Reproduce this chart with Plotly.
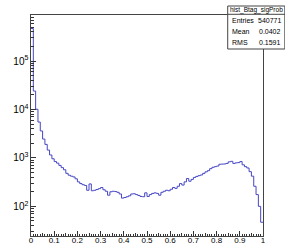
import plotly.graph_objects as go

# ---- data ----
bin_low_edges = [round(i * 0.01, 2) for i in range(100)]
counts = [470000, 24000, 10100, 5500, 3600, 2450, 1900, 1450, 1150, 960,
          840, 780, 700, 630, 570, 480, 440, 420, 405, 370,
          320, 295, 280, 270, 215, 290, 210, 215, 222, 232,
          245, 220, 205, 170, 200, 205, 202, 195, 180, 148,
          152, 158, 165, 180, 182, 175, 168, 160, 158, 190,
          160, 175, 185, 190, 185, 170, 195, 205, 215, 210,
          225, 245, 235, 260, 295, 275, 320, 375, 330, 360,
          395, 415, 430, 445, 480, 515, 545, 600, 640, 660,
          680, 740, 745, 750, 770, 830, 850, 770, 790, 800,
          840, 720, 660, 620, 520, 420, 260, 175, 100, 47]
x_tick_vals = [0, 0.1, 0.2, 0.3, 0.4, 0.5, 0.6, 0.7, 0.8, 0.9, 1]
x_tick_text = ["0", "0.1", "0.2", "0.3", "0.4", "0.5", "0.6", "0.7", "0.8", "0.9", "1"]
stats_title = "hist_Btag_sigProb"
stats_rows = [("Entries", "540771"), ("Mean", "0.0402"), ("RMS", "0.1591")]

# body margin is removed by post_script, so page pixels == figure pixels
W, H = 285, 246
FL, FR, FT, FB = 31.3, 262.7, 15, 236   # frame in page pixels
L, T = FL, FT
R = W - FR
B = H - FB
PW, PH = W - L - R, H - T - B

def px(x):
    return (x - L) / PW

def py(y):
    return 1 - (y - T) / PH

xs = bin_low_edges + [1.0]
ys = counts + [counts[-1]]

fig = go.Figure()
fig.add_trace(go.Scatter(x=xs, y=ys, mode="lines", line=dict(shape="hv", color="#4646c4", width=1),
                         hoverinfo="skip", showlegend=False))

axis_font = dict(family="Liberation Sans, Arial, sans-serif", size=8, color="#000")
fig.update_layout(
    width=W, height=H,
    margin=dict(l=L, r=R, t=T, b=B, pad=0, autoexpand=False),
    paper_bgcolor="white", plot_bgcolor="white",
    showlegend=False,
    xaxis=dict(range=[0, 1], tickmode="array", tickvals=x_tick_vals, ticktext=x_tick_text,
               ticks="inside", ticklen=5, tickcolor="#333", tickwidth=1, automargin=False,
               ticklabelstandoff=-4,
               minor=dict(dtick=0.01, ticks="inside", ticklen=2.5, tickcolor="#333", tickwidth=1, showgrid=False),
               showgrid=False, zeroline=False, showline=True, linecolor="#444", linewidth=1,
               mirror=True, tickfont=axis_font, fixedrange=True),
    xaxis2=dict(range=[0, 1], overlaying="x", anchor="y", side="bottom", dtick=0.05, tick0=0,
                ticks="inside", ticklen=3.5, tickcolor="#333", showticklabels=False, automargin=False,
                showgrid=False, zeroline=False, showline=False, fixedrange=True),
    yaxis=dict(type="log", range=[1.388, 5.95], dtick=1, exponentformat="power",
               ticks="inside", ticklen=5, tickcolor="#333", automargin=False,
               minor=dict(dtick="D1", ticks="inside", ticklen=2.5, tickcolor="#333", showgrid=False),
               showgrid=False, zeroline=False, showline=True, linecolor="#444", linewidth=1,
               mirror=True, tickfont=axis_font, fixedrange=True),
)
fig.add_trace(go.Scatter(x=[0.5], y=[100], xaxis="x2", yaxis="y", mode="markers",
                         marker=dict(opacity=0), hoverinfo="skip", showlegend=False))

# ---- stats box ----
bx0, bx1, by0, by1 = 227.5, 284.5, 6, 49
fig.add_shape(type="rect", xref="paper", yref="paper", x0=px(bx0), x1=px(bx1), y0=py(by1), y1=py(by0),
              line=dict(color="#444", width=1), fillcolor="white", layer="above")
fig.add_shape(type="line", xref="paper", yref="paper", x0=px(bx0), x1=px(bx1), y0=py(14.3), y1=py(14.3),
              line=dict(color="#444", width=1), layer="above")
sfont = dict(family="Liberation Sans, Arial, sans-serif", size=7, color="#000")
fig.add_annotation(xref="paper", yref="paper", x=px((bx0 + bx1) / 2), y=py(10.2), text=stats_title,
                   showarrow=False, font=dict(family="Liberation Sans, Arial, sans-serif", size=6.5, color="#000"),
                   xanchor="center", yanchor="middle")
row_y = [20.5, 31.5, 42.3]
for (lab, val), ry in zip(stats_rows, row_y):
    fig.add_annotation(xref="paper", yref="paper", x=px(bx0 + 2), y=py(ry), text=lab, showarrow=False,
                       font=sfont, xanchor="left", yanchor="middle")
    fig.add_annotation(xref="paper", yref="paper", x=px(bx1 - 1.5), y=py(ry), text=val, showarrow=False,
                       font=sfont, xanchor="right", yanchor="middle")

fig.write_html("out.html",
               config={"displayModeBar": False, "staticPlot": True},
               post_script="document.documentElement.style.overflow='hidden';"
                           "document.body.style.margin='0';document.body.style.overflow='hidden';")
